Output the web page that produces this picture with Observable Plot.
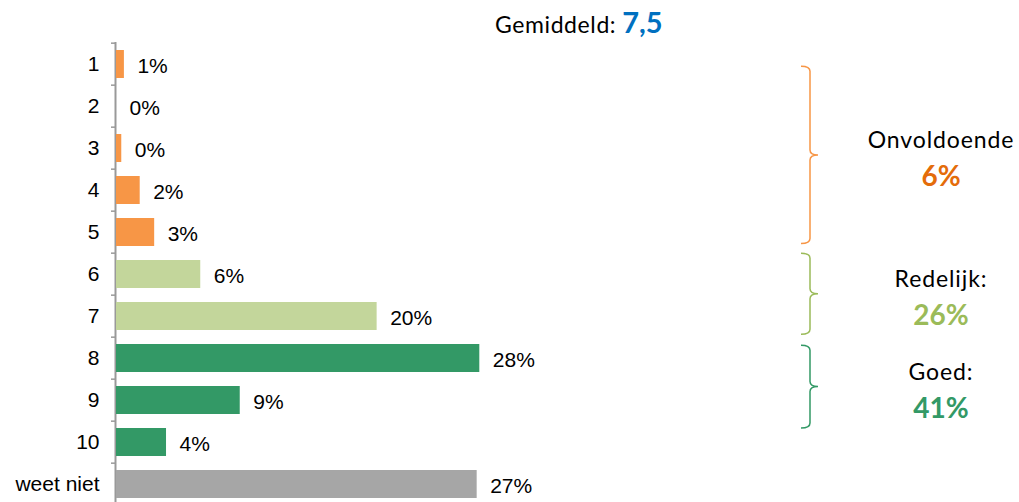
<!DOCTYPE html>
<html>
<head>
<meta charset="utf-8">
<script src="https://cdn.jsdelivr.net/npm/d3@7"></script>
<script src="https://cdn.jsdelivr.net/npm/@observablehq/plot@0.6"></script>
<style>
  html, body { margin: 0; padding: 0; background: #ffffff; overflow: hidden; }
  #title { display: block; }
  #chart svg { display: block; }
</style>
</head>
<body>
<svg id="title" width="1019" height="42"></svg>
<div id="chart"></div>
<script>
// ---- data ----
const categories = ["1", "2", "3", "4", "5", "6", "7", "8", "9", "10", "weet niet"];
const values = [0.6, 0, 0.4, 1.8, 2.9, 6.4, 19.8, 27.6, 9.4, 3.8, 27.4];
const groupOf = ["Onvoldoende", "Onvoldoende", "Onvoldoende", "Onvoldoende", "Onvoldoende",
                 "Redelijk", "Redelijk", "Goed", "Goed", "Goed", "Weet niet"];
const groupKeys = ["Onvoldoende", "Redelijk", "Goed", "Weet niet"];
const groupLabels = ["Onvoldoende", "Redelijk:", "Goed:"];
const groupTotals = ["6%", "26%", "41%"];
const meanLabel = "Gemiddeld:";
const meanValue = "7,5";

// ---- styles ----
const barColors = ["#F79646", "#C3D69B", "#339966", "#A6A6A6"];
const braceColors = ["#F79646", "#9BBB59", "#339966"];
const totalColors = ["#E46C0A", "#9BBB59", "#339966"];
const braceSpans = [[0.55, 4.77], [5.0, 6.93], [7.19, 9.16]]; // in band units
const PI = 0.325, PO = PI / 2;
const calibriLike = "Lato, 'Open Sans', sans-serif";

// ---- title ----
{
  const t = d3.select("#title").append("text")
    .attr("x", 495).attr("y", 32.5)
    .attr("font-family", calibriLike).attr("font-size", 23)
    .attr("letter-spacing", "0.6px").attr("fill", "#000");
  t.append("tspan").text(meanLabel);
  t.append("tspan").attr("dx", 6).attr("font-weight", "bold").attr("font-size", 29)
    .attr("letter-spacing", "0px").attr("fill", "#0070C0").text(meanValue);
}

const data = categories.map((c, i) => ({cat: c, value: values[i], group: groupOf[i]}));

function annotations(index, scales, vals, dims) {
  const y = scales.y;
  const step = y(categories[1]) - y(categories[0]);
  const top0 = y(categories[0]) - PO * step;
  const g = d3.create("svg:g");
  const ax = dims.marginLeft;
  // boundary ticks on the category axis
  for (let i = 0; i <= categories.length; i++) {
    const yy = top0 + i * step;
    g.append("line").attr("x1", ax - 5).attr("x2", ax - 1)
      .attr("y1", yy).attr("y2", yy)
      .attr("stroke", "#999").attr("stroke-width", 1.5);
  }
  const x0 = dims.width - 209;
  const tx = dims.width - 78;
  braceSpans.forEach(([a, b], k) => {
    const top = top0 + a * step, bot = top0 + b * step, mid = (top + bot) / 2;
    const p = `M${x0 - 9},${top} Q${x0},${top} ${x0},${top + 5} L${x0},${mid - 5} ` +
              `Q${x0},${mid} ${x0 + 8},${mid} Q${x0},${mid} ${x0},${mid + 5} ` +
              `L${x0},${bot - 5} Q${x0},${bot} ${x0 - 9},${bot}`;
    g.append("path").attr("d", p).attr("fill", "none")
      .attr("stroke", braceColors[k]).attr("stroke-width", 1.5);
    g.append("text").attr("x", tx).attr("y", mid - 7)
      .attr("text-anchor", "middle").attr("font-family", calibriLike)
      .attr("font-size", 23).attr("letter-spacing", "0.9px").attr("fill", "#000")
      .text(groupLabels[k]);
    g.append("text").attr("x", tx).attr("y", mid + 31.5)
      .attr("text-anchor", "middle").attr("font-family", calibriLike)
      .attr("font-size", 28).attr("font-weight", "bold").attr("fill", totalColors[k])
      .text(groupTotals[k]);
  });
  return g.node();
}

const chart = Plot.plot({
  width: 1019,
  height: 464,
  marginLeft: 116,
  marginRight: 0,
  marginTop: 0,
  marginBottom: 0,
  style: {fontFamily: "'Liberation Sans', Arial, sans-serif", fontSize: "21px", color: "#000", background: "#fff"},
  x: {domain: [0, 68.6], axis: null},
  y: {domain: categories, paddingInner: PI, paddingOuter: PO, tickSize: 0, tickPadding: 17, label: null},
  color: {domain: groupKeys, range: barColors},
  marks: [
    Plot.ruleX([0], {stroke: "#999", strokeWidth: 2, dx: -1}),
    Plot.barX(data, {x: "value", y: "cat", fill: "group"}),
    Plot.text(data, {x: "value", y: "cat", text: d => Math.round(d.value) + "%",
                     textAnchor: "start", dx: 13, dy: 2, fill: "#000", fontSize: 21}),
    annotations
  ]
});
document.getElementById("chart").appendChild(chart);
</script>
</body>
</html>
